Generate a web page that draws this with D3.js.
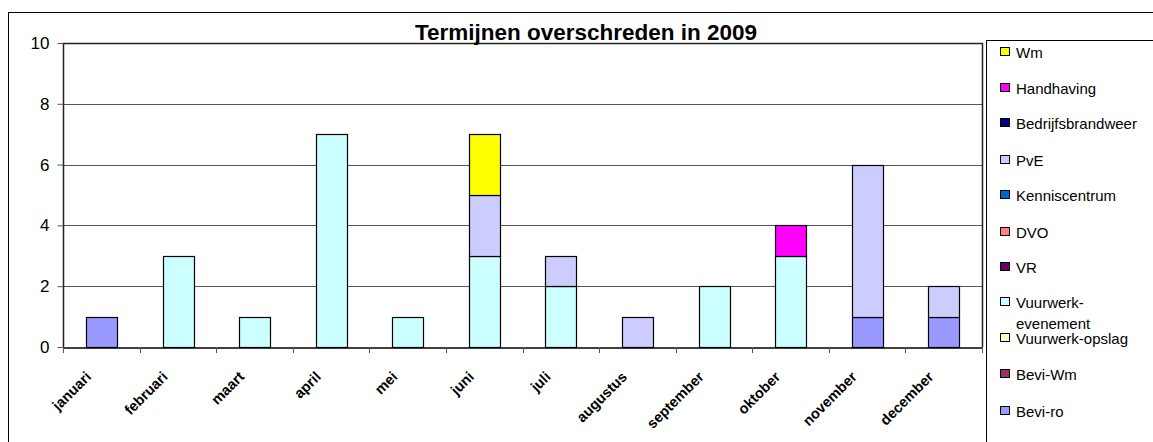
<!DOCTYPE html>
<html>
<head>
<meta charset="utf-8">
<script src="https://cdn.jsdelivr.net/npm/d3@7"></script>
<style>
  body { margin: 0; background: #fff; }
  text { font-family: Arial, "Liberation Sans", sans-serif; }
</style>
</head>
<body>
<svg id="chart" width="1153" height="442"></svg>
<script>
// months on the x axis
var months = ["januari", "februari", "maart", "april", "mei", "juni", "juli",
  "augustus", "september", "oktober", "november", "december"];

// series, bottom of stack first
var seriesNames = ["Bevi-ro", "Bevi-Wm", "Vuurwerk-opslag", "Vuurwerk-evenement", "VR",
  "DVO", "Kenniscentrum", "PvE", "Bedrijfsbrandweer", "Handhaving", "Wm"];
var seriesColors = ["#9999ff", "#993366", "#ffffcc", "#ccffff", "#660066",
  "#ff8080", "#0066cc", "#ccccff", "#000080", "#ff00ff", "#ffff00"];

// values per month
var beviRo      = [1, 0, 0, 0, 0, 0, 0, 0, 0, 0, 1, 1];
var beviWm      = [0, 0, 0, 0, 0, 0, 0, 0, 0, 0, 0, 0];
var vwOpslag    = [0, 0, 0, 0, 0, 0, 0, 0, 0, 0, 0, 0];
var vwEvenement = [0, 3, 1, 7, 1, 3, 2, 0, 2, 3, 0, 0];
var vr          = [0, 0, 0, 0, 0, 0, 0, 0, 0, 0, 0, 0];
var dvo         = [0, 0, 0, 0, 0, 0, 0, 0, 0, 0, 0, 0];
var kennis      = [0, 0, 0, 0, 0, 0, 0, 0, 0, 0, 0, 0];
var pve         = [0, 0, 0, 0, 0, 2, 1, 1, 0, 0, 5, 1];
var bedrijfsbw  = [0, 0, 0, 0, 0, 0, 0, 0, 0, 0, 0, 0];
var handhaving  = [0, 0, 0, 0, 0, 0, 0, 0, 0, 1, 0, 0];
var wm          = [0, 0, 0, 0, 0, 2, 0, 0, 0, 0, 0, 0];

var yTicks = [0, 2, 4, 6, 8, 10];

var seriesValues = [beviRo, beviWm, vwOpslag, vwEvenement, vr, dvo, kennis, pve, bedrijfsbw, handhaving, wm];

// build table for d3.stack
var table = months.map(function(m, i) {
  var row = { month: m };
  seriesNames.forEach(function(s, j) { row[s] = seriesValues[j][i]; });
  return row;
});

var svg = d3.select("#chart");

// outer chart border
svg.append("rect")
  .attr("x", 8.5).attr("y", 12.5)
  .attr("width", 1160).attr("height", 440)
  .attr("fill", "none").attr("stroke", "#000").attr("stroke-width", 1);

var plotLeft = 63, plotRight = 982, plotTop = 43, plotBottom = 347;

var x = d3.scaleBand().domain(months).range([plotLeft, plotRight]).paddingInner(0.6).paddingOuter(0.3);
var xb = d3.scaleBand().domain(months).range([plotLeft, plotRight]);
var y = d3.scaleLinear().domain([0, 10]).range([plotBottom, plotTop]);

// gridlines
svg.append("g")
  .selectAll("line")
  .data(yTicks.filter(function(d) { return d > 0 && d < 10; }))
  .enter().append("line")
  .attr("x1", plotLeft).attr("x2", plotRight)
  .attr("y1", function(d) { return Math.round(y(d)) + 0.5; })
  .attr("y2", function(d) { return Math.round(y(d)) + 0.5; })
  .attr("stroke", "#555").attr("stroke-width", 1);

// stacked bars
var stacked = d3.stack().keys(seriesNames)(table);
svg.append("g")
  .selectAll("g")
  .data(stacked)
  .enter().append("g")
  .attr("fill", function(d, i) { return seriesColors[i]; })
  .selectAll("rect")
  .data(function(d) { return d.filter(function(p) { return p[1] - p[0] > 0; }); })
  .enter().append("rect")
  .attr("x", function(d) { return Math.round(x(d.data.month)) + 0.5; })
  .attr("y", function(d) { return Math.round(y(d[1])) + 0.5; })
  .attr("width", Math.round(x.bandwidth()))
  .attr("height", function(d) { return Math.round(y(d[0])) - Math.round(y(d[1])); })
  .attr("stroke", "#000").attr("stroke-width", 1.2);

// plot area frame
svg.append("path")
  .attr("d", "M" + (plotLeft + 0.5) + "," + plotBottom + "V" + (plotTop + 0.5) + "H" + (plotRight + 0.5) + "V" + plotBottom)
  .attr("fill", "none").attr("stroke", "#222").attr("stroke-width", 1.5);

// y axis
var yAxis = d3.axisLeft(y).tickValues(yTicks).tickSize(6).tickPadding(8);
var yg = svg.append("g")
  .attr("transform", "translate(" + (plotLeft + 0.5) + ",0)")
  .call(yAxis);
yg.select(".domain").remove();
yg.selectAll("line").attr("stroke", "#555");
yg.selectAll("text").attr("font-size", 17).attr("fill", "#000");

// x axis
var xAxis = d3.axisBottom(xb).tickSize(0).tickFormat("");
var xg = svg.append("g")
  .attr("transform", "translate(0," + (plotBottom + 0.5) + ")")
  .call(xAxis);
xg.select(".domain").attr("stroke", "#000").attr("stroke-width", 1.5);
xg.selectAll(".tick").remove();

// tick marks between categories
svg.append("g")
  .selectAll("line")
  .data(months.concat(["end"]))
  .enter().append("line")
  .attr("x1", function(d, i) { return Math.round(plotLeft + i * xb.bandwidth()) + 0.5; })
  .attr("x2", function(d, i) { return Math.round(plotLeft + i * xb.bandwidth()) + 0.5; })
  .attr("y1", plotBottom).attr("y2", plotBottom + 6)
  .attr("stroke", "#555");

// rotated month labels
svg.append("g")
  .selectAll("text")
  .data(months)
  .enter().append("text")
  .attr("transform", function(d) {
    return "translate(" + (xb(d) + xb.bandwidth() / 2 - 17) + "," + (plotBottom + 23) + ") rotate(-45)";
  })
  .attr("text-anchor", "end")
  .attr("dy", "0.75em")
  .attr("font-size", 14.5)
  .attr("font-weight", "bold")
  .text(function(d) { return d; });

// title
svg.append("text")
  .attr("x", 586).attr("y", 40)
  .attr("text-anchor", "middle")
  .attr("font-size", 22.5)
  .attr("font-weight", "bold")
  .text("Termijnen overschreden in 2009");

// legend
svg.append("rect")
  .attr("x", 986.5).attr("y", 40.5)
  .attr("width", 200).attr("height", 420)
  .attr("fill", "#fff").attr("stroke", "#000");

var legendItems = seriesNames.map(function(s, i) { return { name: s, color: seriesColors[i] }; }).reverse();
var legendY = [52, 88, 123, 160, 195, 232, 267, 302, 338, 374, 411];

var lg = svg.append("g")
  .selectAll("g")
  .data(legendItems)
  .enter().append("g")
  .attr("transform", function(d, i) { return "translate(1000," + legendY[i] + ")"; });

lg.append("rect")
  .attr("x", 0.5).attr("y", -4.5)
  .attr("width", 9).attr("height", 8)
  .attr("fill", function(d) { return d.color; })
  .attr("stroke", "#000");

lg.append("text")
  .attr("x", 16).attr("y", 5.5)
  .attr("font-size", 15)
  .each(function(d) {
    var t = d3.select(this);
    if (d.name === "Vuurwerk-evenement") {
      t.append("tspan").attr("x", 16).text("Vuurwerk-");
      t.append("tspan").attr("x", 16).attr("dy", 21).text("evenement");
    } else {
      t.text(d.name);
    }
  });
</script>
</body>
</html>
